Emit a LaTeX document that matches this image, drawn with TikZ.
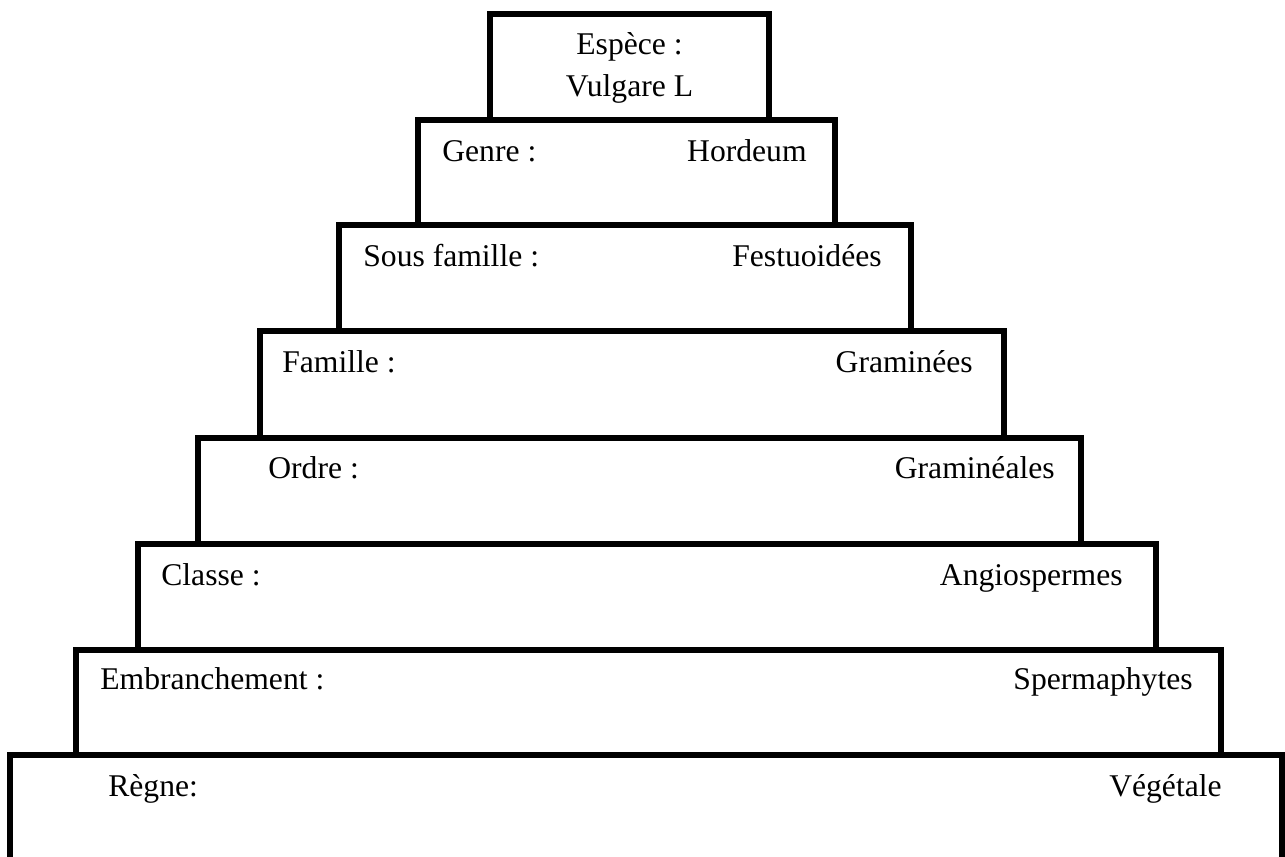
\documentclass[tikz,border=0pt]{standalone}
\usepackage{fontspec}
\setmainfont{Liberation Serif}
\begin{document}
\begin{tikzpicture}[x=0.02cm,y=-0.02cm,
  tier/.style n args={2}{draw=black,line width=0.12cm,inner sep=0pt,outer sep=0pt,
    minimum width={#1*0.02cm},minimum height={#2*0.02cm},fill=none},
  lab/.style={anchor=base west,inner sep=0pt,font=\fontsize{18}{22}\selectfont},
  val/.style={anchor=base east,inner sep=0pt,font=\fontsize{18}{22}\selectfont},
  mid/.style={anchor=base,inner sep=0pt,font=\fontsize{18}{22}\selectfont}]
\useasboundingbox (0,0) rectangle (1285,857);
\clip (0,0) rectangle (1285,857);
% tiers
\node[tier={279}{106}]   (esp) at (629.5,67) {};
\node[tier={417}{105.5}] (gen) at (626.5,172.75) {};
\node[tier={572}{106}]   (sf)  at (625,278.5) {};
\node[tier={744}{106.5}] (fam) at (632,384.75) {};
\node[tier={883}{106}]   (ord) at (639.5,491) {};
\node[tier={1018}{106}]  (cla) at (647,597) {};
\node[tier={1145}{105}]  (emb) at (648.5,702.5) {};
\node[tier={1272}{115}]  (reg) at (646,812.5) {};
% labels
\node[mid] (espl) at (629.5,55) {Espèce :};
\node[mid] (espv) at (629.5,97) {Vulgare L};
\node[lab] (genl) at (442,162) {Genre :};
\node[val] (genv) at (807,162) {Hordeum};
\node[lab] (sfl)  at (363,267) {Sous famille :};
\node[val] (sfv)  at (882,267) {Festuoidées};
\node[lab] (faml) at (282,373) {Famille :};
\node[val] (famv) at (973,373) {Graminées};
\node[lab] (ordl) at (268,479) {Ordre :};
\node[val] (ordv) at (1055,479) {Graminéales};
\node[lab] (clal) at (161,586) {Classe :};
\node[val] (clav) at (1123,586) {Angiospermes};
\node[lab] (embl) at (100,690) {Embranchement :};
\node[val] (embv) at (1193,690) {Spermaphytes};
\node[lab] (regl) at (108,797) {Règne:};
\node[val] (regv) at (1222,797) {Végétale};
\end{tikzpicture}
\end{document}
